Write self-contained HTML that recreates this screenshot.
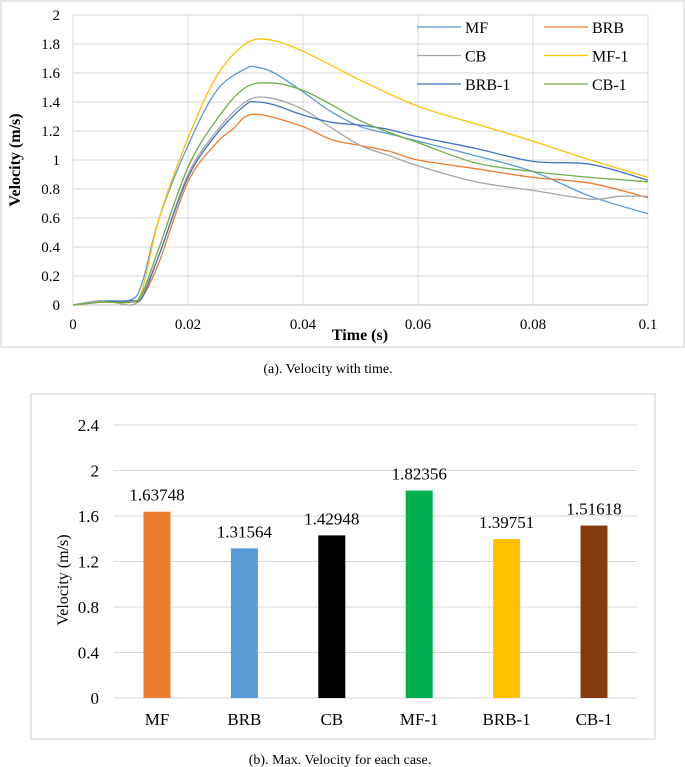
<!DOCTYPE html>
<html><head><meta charset="utf-8"><style>
html,body{margin:0;padding:0;background:#fff;}
svg{display:block;font-family:"Liberation Serif",serif;}
</style></head><body>
<svg id="s" width="685" height="767" viewBox="0 0 685 767">
<rect x="1" y="1" width="683" height="346" fill="#fff" stroke="#d9d9d9" stroke-width="1.2"/>
<g id="a"></g>
<text x="328" y="373" font-size="14" text-anchor="middle">(a). Velocity with time.</text>
<rect x="31" y="394" width="624" height="345" fill="#fff" stroke="#d9d9d9" stroke-width="1.2"/>
<g id="b"></g>
<text x="340" y="764" font-size="14" text-anchor="middle">(b). Max. Velocity for each case.</text>
</svg>
<script>
const seriesNames=["MF","BRB","CB","MF-1","BRB-1","CB-1"];
const seriesColors=["#5B9BD5","#ED7D31","#A5A5A5","#FFC000","#4472C4","#70AD47"];
const tMF=[0,0.005,0.01,0.012,0.015,0.02,0.025,0.03,0.032,0.035,0.04,0.045,0.05,0.055,0.06,0.07,0.08,0.09,0.1];
const vMF=[0,0.03,0.035,0.15,0.6,1.1,1.48,1.63,1.64,1.6,1.47,1.33,1.23,1.18,1.13,1.03,0.92,0.75,0.63];
const tBRB=[0,0.005,0.01,0.012,0.015,0.02,0.025,0.028,0.03,0.033,0.04,0.045,0.05,0.055,0.06,0.07,0.08,0.09,0.1];
const vBRB=[0,0.02,0.02,0.05,0.3,0.85,1.12,1.22,1.3,1.31,1.23,1.14,1.1,1.06,1.0,0.94,0.88,0.84,0.74];
const tCB=[0,0.005,0.01,0.012,0.015,0.02,0.025,0.03,0.034,0.04,0.045,0.05,0.055,0.06,0.07,0.08,0.09,0.095,0.1];
const vCB=[0,0.03,0.0,0.07,0.35,0.9,1.2,1.4,1.43,1.35,1.22,1.1,1.03,0.96,0.85,0.79,0.73,0.75,0.75];
const tMF1=[0,0.005,0.01,0.012,0.015,0.02,0.025,0.03,0.034,0.04,0.05,0.06,0.07,0.08,0.09,0.1];
const vMF1=[0,0.02,0.02,0.1,0.6,1.15,1.58,1.8,1.83,1.75,1.55,1.37,1.25,1.13,1.0,0.88];
const tBRB1=[0,0.005,0.01,0.012,0.015,0.02,0.025,0.03,0.032,0.035,0.04,0.045,0.05,0.055,0.06,0.07,0.08,0.09,0.1];
const vBRB1=[0,0.02,0.03,0.05,0.35,0.88,1.18,1.38,1.4,1.38,1.31,1.26,1.24,1.21,1.16,1.08,0.99,0.97,0.86];
const tCB1=[0,0.005,0.01,0.012,0.015,0.02,0.025,0.03,0.035,0.04,0.045,0.05,0.055,0.06,0.07,0.08,0.09,0.1];
const vCB1=[0,0.02,0.02,0.08,0.4,0.95,1.28,1.5,1.53,1.48,1.38,1.27,1.19,1.12,0.98,0.92,0.88,0.85];
const xTicks=[0,0.02,0.04,0.06,0.08,0.1];
const yTicksA=[0,0.2,0.4,0.6,0.8,1,1.2,1.4,1.6,1.8,2];
const barCats=["MF","BRB","CB","MF-1","BRB-1","CB-1"];
const barVals=[1.63748,1.31564,1.42948,1.82356,1.39751,1.51618];
const barColors=["#ED7D31","#5B9BD5","#000000","#00B050","#FFC000","#843C0C"];
const yTicksB=[0,0.4,0.8,1.2,1.6,2,2.4];

const NS="http://www.w3.org/2000/svg";
function mk(p,tag,at,txt){const e=document.createElementNS(NS,tag);for(const k in at)e.setAttribute(k,at[k]);if(txt!==undefined)e.textContent=txt;p.appendChild(e);return e;}
// Chart A
const A=document.getElementById('a');
const ax=t=>73+t/0.1*575, ay=v=>305-v/2*290;
yTicksA.forEach(v=>{
 const l=mk(A,'line',{x1:73,x2:648,y1:ay(v),y2:ay(v),stroke:v===0?'#bfbfbf':'#d9d9d9','stroke-width':1});
 
 
 const t=mk(A,'text',{x:60,y:ay(v)+5,'font-size':15,'text-anchor':'end'},String(v));
 
 
});
xTicks.forEach(v=>{
 const l=mk(A,'line',{x1:ax(v),x2:ax(v),y1:15,y2:305,stroke:'#d9d9d9','stroke-width':1});
 
 
 const t=mk(A,'text',{x:ax(v),y:329,'font-size':15,'text-anchor':'middle'},String(v));
 
 
});
const yt=mk(A,'text',{x:0,y:0,'font-size':16,'font-weight':'bold','text-anchor':'middle',transform:'translate(20,160) rotate(-90)'},'Velocity (m/s)');


const xt=mk(A,'text',{x:360,y:340,'font-size':16,'font-weight':'bold','text-anchor':'middle'},'Time (s)');


function smooth(pts){let d=`M${pts[0][0]},${pts[0][1]}`;for(let i=0;i<pts.length-1;i++){const p0=pts[i-1]||pts[i],p1=pts[i],p2=pts[i+1],p3=pts[i+2]||p2;const c1=[p1[0]+(p2[0]-p0[0])/6,p1[1]+(p2[1]-p0[1])/6],c2=[p2[0]-(p3[0]-p1[0])/6,p2[1]-(p3[1]-p1[1])/6];d+=` C${c1[0].toFixed(1)},${c1[1].toFixed(1)} ${c2[0].toFixed(1)},${c2[1].toFixed(1)} ${p2[0].toFixed(1)},${p2[1].toFixed(1)}`;}return d;}
const allT=[tMF,tBRB,tCB,tMF1,tBRB1,tCB1], allV=[vMF,vBRB,vCB,vMF1,vBRB1,vCB1];
allT.forEach((ts,i)=>{
 const pts=ts.map((t,j)=>[ax(t),ay(allV[i][j])]);
 const p=mk(A,'path',{d:smooth(pts),fill:'none',stroke:seriesColors[i],'stroke-width':1.3});
 
 
});
seriesNames.forEach((n,i)=>{
 const col=i%2,row=Math.floor(i/2);
 const lx=col?544:417, ly=27+row*28.5;
 const g=mk(A,'g',{});
 
 
 mk(g,'line',{x1:lx,x2:lx+44,y1:ly,y2:ly,stroke:seriesColors[i],'stroke-width':1.3});
 mk(g,'text',{x:lx+48,y:ly+6,'font-size':16},n);
});
// Chart B
const B=document.getElementById('b');
const by=v=>698-v/2.4*273, bx=i=>157+i*87.4;
yTicksB.forEach(v=>{
 const l=mk(B,'line',{x1:114,x2:637,y1:by(v),y2:by(v),stroke:'#d9d9d9','stroke-width':1});
 
 
 const t=mk(B,'text',{x:99,y:by(v)+6,'font-size':17,'text-anchor':'end'},String(v));
 
 
});
const byt=mk(B,'text',{x:0,y:0,'font-size':16,'text-anchor':'middle',transform:'translate(68,580) rotate(-90)'},'Velocity (m/s)');


barVals.forEach((v,i)=>{
 const r=mk(B,'rect',{x:bx(i)-13.5,y:by(v),width:27,height:by(0)-by(v),fill:barColors[i]});
 
 
 const lb=mk(B,'text',{x:bx(i),y:by(v)-11,'font-size':17,'text-anchor':'middle'},String(v));
 
 
 const c=mk(B,'text',{x:bx(i),y:725,'font-size':17,'text-anchor':'middle'},barCats[i]);
 
 
});
</script>
</body></html>
